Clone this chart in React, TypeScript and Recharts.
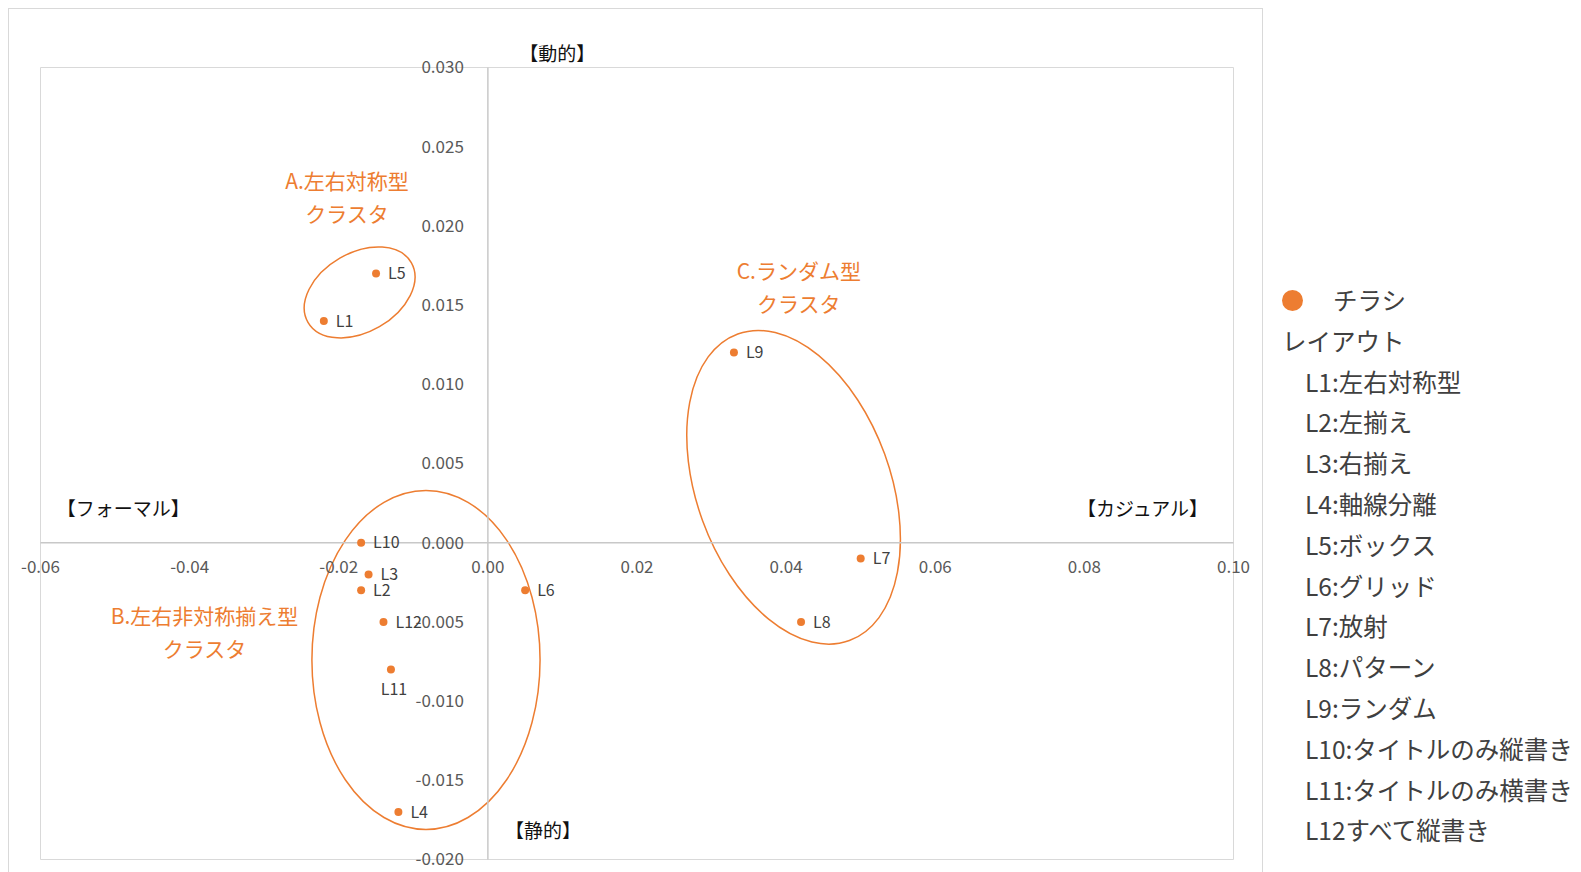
import { ScatterChart, Scatter, XAxis, YAxis, CartesianGrid, ReferenceLine, ReferenceDot, ReferenceArea } from 'recharts'

const ORANGE = '#ED7D31'
const FONT = '"Noto Sans CJK JP", "Noto Sans", sans-serif'

// layout points (x: formal -> casual, y: static -> dynamic)
const names = ['L1', 'L2', 'L3', 'L4', 'L5', 'L6', 'L7', 'L8', 'L9', 'L10', 'L11', 'L12']
const xs = [-0.022, -0.017, -0.016, -0.012, -0.015, 0.005, 0.050, 0.042, 0.033, -0.017, -0.013, -0.014]
const ys = [0.014, -0.003, -0.002, -0.017, 0.017, -0.003, -0.001, -0.005, 0.012, 0.0, -0.008, -0.005]
const labelBelow = ['L11']

const xTicks = [-0.06, -0.04, -0.02, 0, 0.02, 0.04, 0.06, 0.08, 0.1]
const yTicks = [-0.02, -0.015, -0.01, -0.005, 0, 0.005, 0.01, 0.015, 0.02, 0.025, 0.03]

// cluster rings: centre, half extents (data units), tilt in degrees
const clusters = [
  { cx: -0.0172, cy: 0.0158, hx: 0.0080, hy: 0.0025, tilt: -30, title: 'A.左右対称型', lx: -0.0189, ly: 0.0228 },
  { cx: -0.0083, cy: -0.0074, hx: 0.0153, hy: 0.0107, tilt: 0, title: 'B.左右非対称揃え型', lx: -0.0380, ly: -0.0047 },
  { cx: 0.0410, cy: 0.0035, hx: 0.0130, hy: 0.0103, tilt: -20, title: 'C.ランダム型', lx: 0.0417, ly: 0.0171 },
]

const dirLabels = [
  { text: '【動的】', x: 0.0093, y: 0.0308 },
  { text: '【静的】', x: 0.0074, y: -0.0182 },
  { text: '【フォーマル】', x: -0.0489, y: 0.0021 },
  { text: '【カジュアル】', x: 0.0878, y: 0.0021 },
]

const legendItems = [
  'L1:左右対称型', 'L2:左揃え', 'L3:右揃え', 'L4:軸線分離', 'L5:ボックス', 'L6:グリッド',
  'L7:放射', 'L8:パターン', 'L9:ランダム', 'L10:タイトルのみ縦書き', 'L11:タイトルのみ横書き', 'L12すべて縦書き',
]

const points = names.map((name, i) => ({ name, x: xs[i], y: ys[i] }))

const PointShape = (p: any) => {
  const below = labelBelow.includes(p.payload.name)
  return (
    <g>
      <circle cx={p.cx} cy={p.cy} r={4} fill={ORANGE} />
      <text
        x={below ? p.cx + 3 : p.cx + 12}
        y={below ? p.cy + 20 : p.cy}
        dy="0.35em"
        textAnchor={below ? 'middle' : 'start'}
        fontSize={16}
        fill="#404040"
        fontFamily={FONT}
      >
        {p.payload.name}
      </text>
    </g>
  )
}

export default function App() {
  return (
    <div style={{ position: 'relative', width: 1573, height: 864, overflow: 'hidden', fontFamily: FONT }}>
      <div style={{ position: 'absolute', left: 0, top: 0, width: 1255, height: 900, border: '1px solid #D9D9D9', boxSizing: 'border-box' }} />
      <ScatterChart width={1573} height={864} margin={{ top: 59.5, right: 347.5, bottom: 12.5, left: 32.5 }} style={{ position: 'absolute', left: 0, top: 0 }}>
        <CartesianGrid stroke="#D9D9D9" strokeWidth={1} />
        <XAxis type="number" dataKey="x" domain={[-0.06, 0.1]} ticks={xTicks} height={0} tick={false} tickLine={false} axisLine={false} />
        <YAxis type="number" dataKey="y" domain={[-0.02, 0.03]} ticks={yTicks} width={0} tick={false} tickLine={false} axisLine={false} />
        <ReferenceLine x={0} stroke="#C8C8C8" strokeWidth={1.5} />
        <ReferenceLine y={0} stroke="#C8C8C8" strokeWidth={1.5} />

        {xTicks.map((t) => (
          <ReferenceDot key={'xt' + t} x={t} y={0} r={0} ifOverflow="visible"
            shape={(p: any) => (
              <text x={p.cx} y={p.cy + 24} dy="0.35em" textAnchor="middle" fontSize={17} fill="#595959" fontFamily={FONT}>
                {t.toFixed(2)}
              </text>
            )}
          />
        ))}
        {yTicks.map((t) => (
          <ReferenceDot key={'yt' + t} x={0} y={t} r={0} ifOverflow="visible"
            shape={(p: any) => (
              <text x={p.cx - 24} y={p.cy} dy="0.35em" textAnchor="end" fontSize={17} fill="#595959" fontFamily={FONT}>
                {t.toFixed(3)}
              </text>
            )}
          />
        ))}

        {clusters.map((c) => (
          <ReferenceArea key={c.title} x1={c.cx - c.hx} x2={c.cx + c.hx} y1={c.cy - c.hy} y2={c.cy + c.hy} ifOverflow="visible"
            shape={(p: any) => {
              const ex = p.x + p.width / 2
              const ey = p.y + p.height / 2
              return (
                <ellipse cx={ex} cy={ey} rx={Math.abs(p.width) / 2} ry={Math.abs(p.height) / 2}
                  transform={`rotate(${c.tilt} ${ex} ${ey})`} fill="none" stroke={ORANGE} strokeWidth={1.5} />
              )
            }}
          />
        ))}
        {clusters.map((c) => (
          <ReferenceDot key={'cl' + c.title} x={c.lx} y={c.ly} r={0} ifOverflow="visible"
            shape={(p: any) => (
              <text x={p.cx} y={p.cy} textAnchor="middle" fontSize={21} fill={ORANGE} fontFamily={FONT}>
                <tspan x={p.cx} dy="0.35em">{c.title}</tspan>
                <tspan x={p.cx} dy={33}>クラスタ</tspan>
              </text>
            )}
          />
        ))}
        {dirLabels.map((d) => (
          <ReferenceDot key={d.text} x={d.x} y={d.y} r={0} ifOverflow="visible"
            shape={(p: any) => (
              <text x={p.cx} y={p.cy} dy="0.35em" textAnchor="middle" fontSize={19} fill="#111111" fontFamily={FONT}>
                {d.text}
              </text>
            )}
          />
        ))}

        <Scatter data={points} fill={ORANGE} shape={PointShape} isAnimationActive={false} />
      </ScatterChart>

      <div style={{ position: 'absolute', left: 1266, top: 272, fontSize: 24.5, lineHeight: '40.8px', color: '#404040', whiteSpace: 'nowrap' }}>
        <div style={{ display: 'flex', alignItems: 'center' }}>
          <span style={{ display: 'inline-block', width: 21, height: 21, borderRadius: '50%', background: ORANGE, marginLeft: 8, marginRight: 30 }} />
          <span>チラシ</span>
        </div>
        <div style={{ marginLeft: 8 }}>レイアウト</div>
        {legendItems.map((t) => (
          <div key={t} style={{ marginLeft: 31 }}>{t}</div>
        ))}
      </div>
    </div>
  )
}
